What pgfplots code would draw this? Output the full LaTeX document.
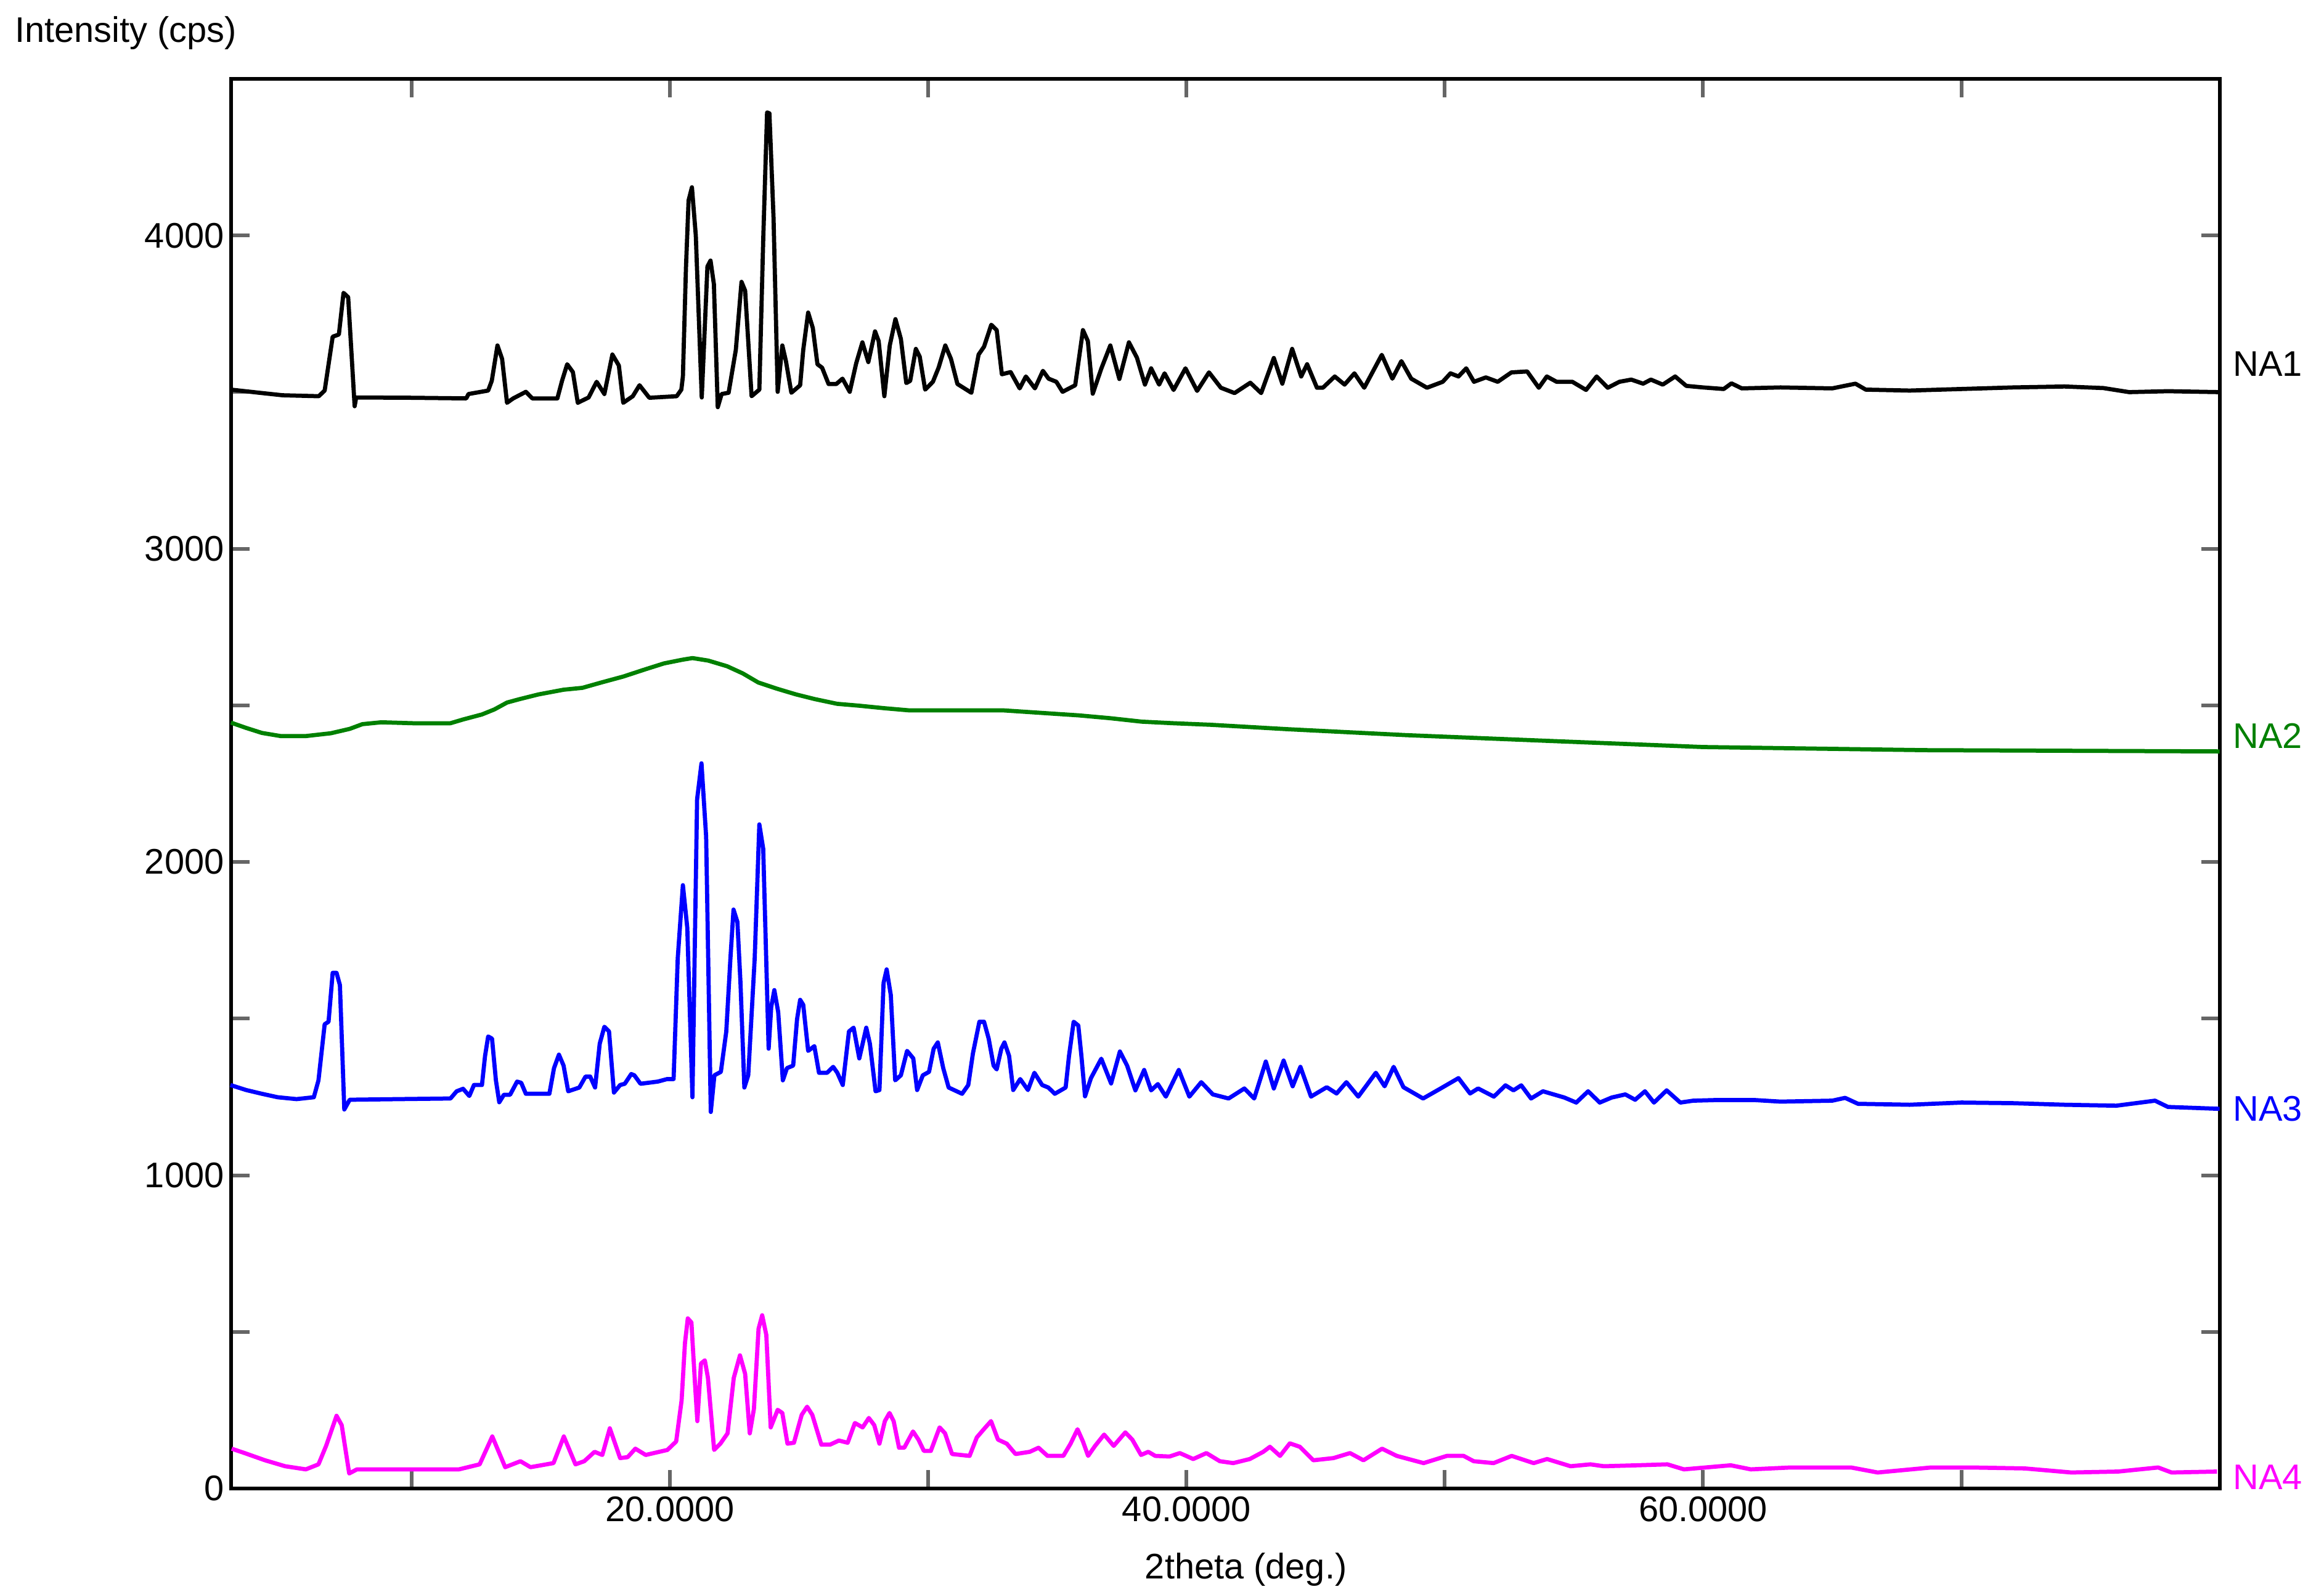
\documentclass[border=0pt]{standalone}
\usepackage{fontspec}
\setmainfont{Liberation Sans}
\usepackage{pgfplots}
\pgfplotsset{compat=1.18}
\definecolor{na2}{RGB}{0,128,0}
\definecolor{na3}{RGB}{0,0,255}
\definecolor{na4}{RGB}{255,0,255}
\newcommand{\ff}{\fontsize{7.7}{9.2}\selectfont}
\begin{document}
\begin{tikzpicture}
\begin{axis}[
  name=ax, scale only axis, width=430.25pt, height=305.05pt,
  xmin=3, xmax=80, ymin=0, ymax=4500,
  xtick={20,40,60}, xticklabels={20.0000,40.0000,60.0000},
  minor xtick={10,30,50,70},
  ytick={0,1000,2000,3000,4000}, yticklabels={0,1000,2000,3000,4000},
  minor ytick={500,1500,2500,3500},
  tick align=inside, tick pos=both,
  major tick length=4pt, minor tick length=4pt,
  every tick/.style={black!60, line width=0.8pt},
  axis line style={black, line width=0.8pt},
  tick label style={font=\ff, black},
  xticklabel style={inner sep=1.6pt},
  yticklabel style={inner xsep=1.3pt},
  /pgf/number format/assume math mode=true,
  clip=false,
  every axis plot/.append style={line width=0.9pt, line join=round, mark=none},
]
% NA1
\addplot[black] coordinates {
(3.0,3508)(4.1,3498)(5.0,3490)(6.4,3487)(6.63,3505)(6.94,3677)(7.18,3684)(7.36,3817)(7.54,3803)(7.79,3455)(7.85,3483)
(10.0,3482)(12.11,3480)(12.2,3494)(12.96,3505)(13.1,3536)(13.32,3649)(13.5,3606)(13.69,3466)(13.93,3480)(14.42,3501)
(14.67,3480)(15.64,3480)(15.82,3536)(16.02,3589)(16.24,3564)(16.43,3466)(16.85,3483)(17.16,3533)(17.46,3494)(17.77,3620)
(18.02,3585)(18.19,3466)(18.56,3487)(18.82,3522)(19.2,3482)(20.26,3487)(20.44,3508)(20.5,3550)(20.62,3900)(20.72,4112)
(20.85,4154)(21.0,4000)(21.23,3483)(21.45,3901)(21.57,3920)(21.7,3845)(21.85,3452)(22.0,3494)(22.27,3498)(22.55,3635)
(22.77,3852)(22.91,3824)(23.16,3487)(23.46,3508)(23.61,3986)(23.76,4393)(23.85,4390)(24.01,4056)(24.17,3501)(24.35,3649)
(24.49,3599)(24.7,3498)(25.04,3522)(25.16,3635)(25.35,3754)(25.53,3705)(25.71,3589)(25.89,3578)(26.14,3526)(26.44,3526)
(26.68,3543)(26.96,3501)(27.21,3592)(27.45,3659)(27.68,3596)(27.94,3694)(28.08,3663)(28.3,3487)(28.51,3649)(28.73,3733)
(28.94,3670)(29.15,3529)(29.3,3536)(29.52,3638)(29.67,3613)(29.88,3508)(30.18,3533)(30.4,3578)(30.66,3649)(30.88,3606)
(31.13,3526)(31.67,3498)(31.95,3620)(32.16,3645)(32.44,3715)(32.65,3698)(32.85,3557)(33.19,3564)(33.54,3512)(33.78,3550)
(34.13,3512)(34.44,3568)(34.66,3543)(34.96,3533)(35.2,3501)(35.69,3522)(35.99,3698)(36.18,3663)(36.37,3495)(36.7,3575)
(37.05,3649)(37.4,3542)(37.77,3659)(38.08,3610)(38.39,3524)(38.63,3576)(38.94,3524)(39.15,3560)(39.5,3507)(39.96,3576)
(40.41,3504)(40.87,3563)(41.33,3514)(41.86,3497)(42.47,3530)(42.89,3497)(43.38,3609)(43.71,3527)(44.09,3638)(44.44,3550)
(44.67,3589)(45.05,3514)(45.28,3514)(45.74,3550)(46.12,3524)(46.5,3560)(46.88,3514)(47.56,3619)(47.97,3543)(48.32,3599)
(48.7,3543)(49.31,3514)(49.92,3533)(50.22,3560)(50.53,3550)(50.83,3576)(51.13,3533)(51.59,3547)(52.05,3533)(52.58,3563)
(53.19,3566)(53.64,3514)(53.95,3550)(54.33,3533)(54.94,3533)(55.47,3507)(55.88,3550)(56.31,3514)(56.76,3533)(57.22,3540)
(57.68,3527)(57.98,3540)(58.44,3524)(58.92,3550)(59.35,3520)(60.0,3515)(60.8,3510)(61.1,3528)(61.5,3512)(63,3515)
(65,3512)(65.9,3527)(66.3,3508)(68,3505)(70,3510)(72,3515)(74,3518)(75.5,3513)(76.5,3500)(78,3503)(80,3500)
};
% NA2
\addplot[na2] coordinates {
(3.0,2445)(3.59,2428)(4.2,2412)(4.93,2402)(5.9,2402)(6.87,2411)(7.6,2425)(8.09,2440)(8.82,2446)(10.04,2443)(11.5,2443)
(11.99,2455)(12.72,2471)(13.2,2487)(13.69,2509)(14.18,2520)(14.91,2535)(15.88,2550)(16.61,2556)(17.34,2573)(18.19,2592)
(19.04,2615)(19.77,2634)(20.5,2646)(20.87,2651)(21.48,2643)(22.21,2625)(22.82,2602)(23.42,2573)(24.15,2553)(24.88,2535)
(25.61,2520)(26.47,2505)(27.32,2499)(28.29,2491)(29.27,2484)(30.97,2484)(32.92,2484)(34.38,2476)(35.84,2468)(37.05,2459)
(38.27,2448)(39.49,2443)(40.95,2438)(43.9,2424)(48.5,2405)(54.2,2386)(60,2367)(68.6,2357)(80,2353)
};
% NA3
\addplot[na3] coordinates {
(2.98,1288)(3.59,1272)(4.2,1260)(4.81,1249)(5.54,1243)(6.21,1249)(6.39,1303)(6.63,1482)(6.78,1490)(6.94,1646)(7.09,1646)
(7.22,1607)(7.39,1210)(7.6,1241)(9.5,1243)(11.5,1245)(11.74,1268)(11.99,1276)(12.23,1253)(12.41,1288)(12.72,1288)
(12.84,1381)(12.96,1443)(13.11,1436)(13.26,1303)(13.39,1233)(13.57,1257)(13.81,1257)(14.08,1299)(14.24,1295)(14.42,1260)
(15.33,1260)(15.51,1342)(15.7,1385)(15.88,1350)(16.06,1268)(16.49,1280)(16.73,1315)(16.91,1315)(17.1,1280)(17.28,1420)
(17.46,1474)(17.64,1459)(17.83,1264)(18.07,1288)(18.25,1292)(18.5,1323)(18.62,1319)(18.86,1292)(19.53,1299)(19.89,1307)
(20.14,1307)(20.3,1692)(20.5,1926)(20.67,1790)(20.87,1249)(21.05,2200)(21.22,2315)(21.4,2081)(21.58,1202)(21.72,1319)
(21.97,1330)(22.18,1459)(22.34,1692)(22.46,1848)(22.61,1809)(22.73,1614)(22.88,1280)(23.03,1319)(23.28,1692)(23.46,2120)
(23.61,2042)(23.82,1404)(23.92,1537)(24.04,1591)(24.19,1521)(24.37,1303)(24.53,1342)(24.77,1350)(24.92,1498)(25.04,1560)
(25.16,1544)(25.35,1397)(25.59,1412)(25.77,1327)(26.08,1327)(26.32,1346)(26.48,1327)(26.69,1288)(26.93,1459)(27.11,1471)
(27.33,1373)(27.6,1471)(27.74,1420)(27.96,1268)(28.11,1272)(28.27,1614)(28.39,1657)(28.55,1575)(28.72,1303)(28.94,1319)
(29.18,1397)(29.42,1373)(29.57,1272)(29.79,1319)(30.03,1330)(30.21,1404)(30.37,1424)(30.58,1342)(30.79,1280)(31.31,1260)
(31.55,1288)(31.73,1389)(31.98,1490)(32.16,1490)(32.34,1436)(32.53,1350)(32.65,1338)(32.83,1404)(32.95,1424)(33.13,1381)
(33.29,1272)(33.56,1307)(33.86,1272)(34.11,1327)(34.41,1288)(34.65,1280)(34.9,1260)(35.32,1280)(35.45,1381)(35.63,1490)
(35.81,1478)(35.93,1381)(36.07,1252)(36.3,1310)(36.7,1372)(37.08,1293)(37.42,1395)(37.7,1350)(38.02,1271)(38.36,1336)
(38.63,1271)(38.89,1291)(39.2,1251)(39.7,1336)(40.11,1251)(40.57,1297)(41.02,1258)(41.63,1245)(42.24,1277)(42.62,1245)
(43.07,1363)(43.38,1277)(43.76,1366)(44.11,1284)(44.41,1346)(44.82,1251)(45.43,1281)(45.81,1261)(46.19,1297)(46.65,1251)
(47.33,1327)(47.67,1284)(48.02,1346)(48.4,1281)(49.16,1245)(49.84,1277)(50.53,1310)(50.98,1261)(51.29,1277)(51.9,1251)
(52.35,1287)(52.66,1271)(52.96,1287)(53.34,1245)(53.8,1268)(54.63,1248)(55.09,1232)(55.55,1268)(56.0,1232)(56.46,1248)
(56.99,1258)(57.37,1241)(57.75,1268)(58.1,1232)(58.59,1271)(59.12,1232)(59.62,1238)(60.5,1240)(62,1240)(63,1235)
(65,1238)(65.5,1247)(66,1228)(68,1225)(70,1232)(72,1230)(74,1225)(76,1222)(77.5,1238)(78,1218)(80,1212)
};
% NA4
\addplot[na4] coordinates {
(3.03,127)(3.53,113)(4.32,90)(5.1,71)(5.9,61)(6.39,77)(6.69,137)(7.09,232)(7.29,202)(7.58,48)(7.88,61)(11.83,61)
(12.63,77)(13.12,166)(13.62,68)(14.21,87)(14.6,68)(15.49,81)(15.89,166)(16.34,77)(16.68,87)(17.08,117)(17.38,107)
(17.67,192)(18.07,97)(18.36,100)(18.66,127)(19.06,107)(19.9,123)(20.24,150)(20.45,281)(20.58,464)(20.69,543)(20.83,530)
(20.97,333)(21.06,215)(21.2,399)(21.35,409)(21.47,353)(21.71,123)(21.95,143)(22.23,176)(22.47,353)(22.71,425)(22.91,366)
(23.09,176)(23.25,254)(23.43,510)(23.57,553)(23.73,490)(23.9,195)(24.17,251)(24.35,241)(24.55,143)(24.8,146)(25.1,235)
(25.31,261)(25.51,235)(25.86,140)(26.2,140)(26.54,153)(26.88,146)(27.16,209)(27.46,195)(27.7,225)(27.91,202)(28.11,143)
(28.32,215)(28.5,241)(28.66,215)(28.87,130)(29.07,130)(29.41,182)(29.62,156)(29.83,120)(30.1,120)(30.44,195)(30.65,176)
(30.92,110)(31.6,104)(31.88,163)(32.15,189)(32.43,215)(32.7,156)(33.04,143)(33.38,110)(33.93,117)(34.27,130)(34.62,104)
(35.23,104)(35.51,143)(35.78,189)(35.99,150)(36.19,104)(36.46,136)(36.81,172)(37.18,136)(37.63,179)(37.9,156)(38.24,107)
(38.52,117)(38.79,104)(39.34,102)(39.74,113)(40.26,94)(40.77,113)(41.29,87)(41.81,81)(42.45,94)(42.97,117)(43.23,133)
(43.62,104)(44.0,144)(44.39,133)(44.91,90)(45.69,97)(46.33,113)(46.85,90)(47.57,127)(48.14,104)(49.18,81)(50.08,104)
(50.73,104)(51.12,87)(51.89,81)(52.59,104)(53.44,81)(53.96,94)(54.87,71)(55.64,77)(56.16,71)(57.45,74)(58.62,77)
(59.26,61)(61.07,74)(61.85,61)(63.4,67)(65.73,67)(66.76,51)(68.83,67)(70.38,67)(72.45,64)(74.26,51)(76.07,54)
(77.62,67)(78.14,51)(79.9,54)
};
\node[anchor=west, inner sep=0, font=\ff, text=black, xshift=2.7pt] at (axis cs:80,3590) {NA1};
\node[anchor=west, inner sep=0, font=\ff, text=na2, xshift=2.7pt] at (axis cs:80,2402) {NA2};
\node[anchor=west, inner sep=0, font=\ff, text=na3, xshift=2.7pt] at (axis cs:80,1212) {NA3};
\node[anchor=west, inner sep=0, font=\ff, text=na4, xshift=2.7pt] at (axis cs:80,37) {NA4};
\node[anchor=base, inner sep=0, font=\ff, text=black, yshift=-19.5pt] at (axis cs:42.3,0) {2theta (deg.)};
\end{axis}
\node[anchor=base west, inner sep=0, font=\ff, text=black] at ([xshift=-46.9pt, yshift=8.0pt]ax.north west) {Intensity (cps)};
\path ([xshift=-49.96pt,yshift=-22.4pt]ax.south west) rectangle ([xshift=22.59pt,yshift=17.08pt]ax.north east);
\end{tikzpicture}
\end{document}
